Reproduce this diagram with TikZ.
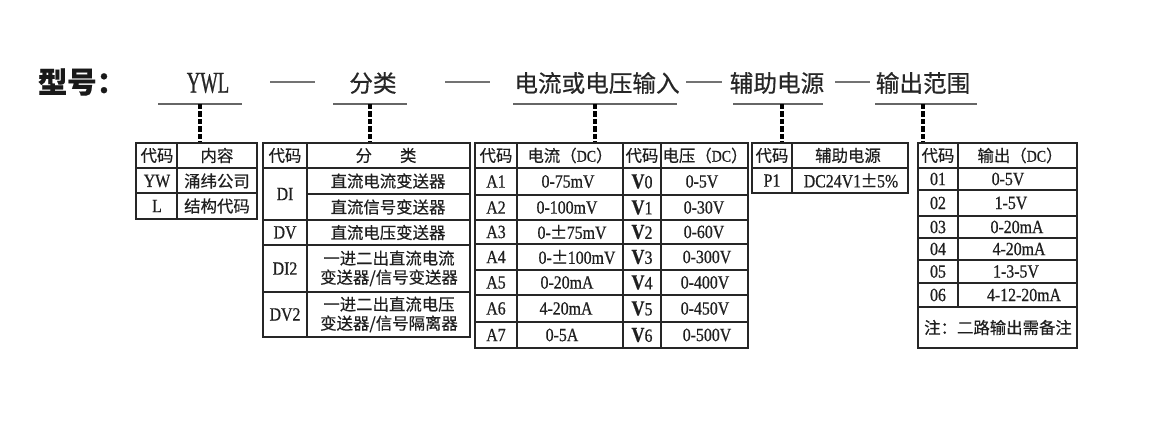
\documentclass[tikz,border=0pt]{standalone}
\usepackage{fontspec}
\usepackage{graphicx}
\setmainfont{Liberation Serif}[FakeStretch=0.85,FakeBold=0.7]
\newfontfamily\cj{Noto Sans CJK SC}[FakeBold=0.5]
\newfontfamily\hdlat{Liberation Serif}[FakeStretch=0.62,FakeBold=0.8]
\begin{document}
\begin{tikzpicture}[x=0.75pt,y=-0.75pt,
  grid/.style={line width=1.3pt,draw=black!85},
  ul/.style={line width=2.2pt,draw=black!60},
  dashln/.style={line width=2.2pt,draw=black!55},
  conn/.style={line width=3pt,dash pattern=on 4pt off 1.6pt,draw=black},
  cjt/.style={font=\cj\fontsize{12.3}{14.25}\selectfont,text=black!88,inner sep=0pt,align=center},
  lat/.style={font=\fontsize{14}{16}\selectfont,text=black!88,inner sep=0pt},
  hd/.style={font=\cj\fontsize{17.7}{20}\selectfont,text=black!85,inner sep=0pt}]
\useasboundingbox (0,0) rectangle (1166,431);
\newcommand\vb{{\bfseries\fontsize{16}{16}\selectfont V}}
\newcommand\pmw{{\cj\fontsize{13}{14}\selectfont\makebox[12pt]{±}}}
% ---------- header ----------
\node[font=\cj\bfseries\fontsize{22}{24}\selectfont,inner sep=0pt,text=black!90] (xh) at (82,82) {型号：};
\node[font=\hdlat\fontsize{22.5}{24}\selectfont,inner sep=0pt,text=black!85] (hywl) at (208,83) {YWL};
\node[hd] (hfl) at (373,83) {分类};
\node[hd] (hdl) at (597,83) {电流或电压输入};
\node[hd] (hfz) at (777,83) {辅助电源};
\node[hd] (hsc) at (923,83) {输出范围};
% underlines
\draw[ul] (158,104) -- (242,104);
\draw[ul] (333,104) -- (407,104);
\draw[ul] (513,104) -- (677,104);
\draw[ul] (733,104) -- (823,104);
\draw[ul] (875,104) -- (977,104);
% dashes
\draw[dashln] (270,82) -- (315,82);
\draw[dashln] (445,82) -- (490,82);
\draw[dashln] (686,82) -- (722,82);
\draw[dashln] (835,82) -- (870,82);
% connector coordinates
\coordinate (u1) at (200,104); \coordinate (t1) at (200,143);
\coordinate (u2) at (370,104); \coordinate (t2) at (370,143);
\coordinate (u3) at (595,104); \coordinate (t3) at (595,143);
\coordinate (u4) at (782,104); \coordinate (t4) at (782,143);
\coordinate (u5) at (923,104); \coordinate (t5) at (923,143);
\draw[conn] (u1) -- (t1);
\draw[conn] (u2) -- (t2);
\draw[conn] (u3) -- (t3);
\draw[conn] (u4) -- (t4);
\draw[conn] (u5) -- (t5);
% ---------- table 1 ----------
\draw[grid] (136,143) rectangle (257,219);
\draw[grid] (177,143) -- (177,219);
\draw[grid] (136,168) -- (257,168) (136,193) -- (257,193);
\node[cjt] (a1) at (157,155.5) {代码};
\node[cjt] (a2) at (217,155.5) {内容};
\node[lat] (a3) at (157,181) {YW};
\node[cjt] (a4) at (217,181) {涌纬公司};
\node[lat] (a5) at (157,206) {L};
\node[cjt] (a6) at (217,206) {结构代码};
% ---------- table 2 ----------
\draw[grid] (263,143) rectangle (470,337);
\draw[grid] (307,143) -- (307,337);
\draw[grid] (263,168) -- (470,168) (307,194) -- (470,194) (263,220) -- (470,220)
  (263,245) -- (470,245) (263,292) -- (470,292);
\node[cjt] (b1) at (285,155.5) {代码};
\node[cjt] (b2) at (386,155.5) {分\hspace{21pt}类};
\node[lat] (b3) at (285,194) {DI};
\node[cjt] (b4) at (388,181) {直流电流变送器};
\node[cjt] (b5) at (388,207) {直流信号变送器};
\node[lat] (b6) at (285,232.5) {DV};
\node[cjt] (b7) at (388,232.5) {直流电压变送器};
\node[lat] (b8) at (285,268.5) {DI2};
\node[cjt] (b9) at (389,268.5) {一进二出直流电流\\变送器/信号变送器};
\node[lat] (b10) at (285,314.5) {DV2};
\node[cjt] (b11) at (389,314.5) {一进二出直流电压\\变送器/信号隔离器};
% ---------- table 3 ----------
\draw[grid] (475,143) rectangle (748,348);
\draw[grid] (517,143) -- (517,348) (623,143) -- (623,348) (661,143) -- (661,348);
\draw[grid] (475,168) -- (748,168) (475,195) -- (748,195) (475,220) -- (748,220)
  (475,244) -- (748,244) (475,270) -- (748,270) (475,295) -- (748,295) (475,322) -- (748,322);
\node[cjt] (c1) at (496,155.5) {代码};
\node[cjt] (c2) at (570,155.5) {电流{\cj （}{\rmfamily DC}{\cj ）}};
\node[cjt] (c3) at (642,155.5) {代码};
\node[cjt] (c4) at (705,155.5) {电压{\cj （}{\rmfamily DC}{\cj ）}};
\node[lat] (c5)  at (496,181.5) {A1};
\node[lat] (c6)  at (568,181.5) {0-75mV};
\node[lat] (c7)  at (642,181.5) {\vb0};
\node[lat] (c8)  at (702,181.5) {0-5V};
\node[lat] (c9)  at (496,207.5) {A2};
\node[lat] (c10) at (567,207.5) {0-100mV};
\node[lat] (c11) at (642,207.5) {\vb1};
\node[lat] (c12) at (704,207.5) {0-30V};
\node[lat] (c13) at (496,232) {A3};
\node[lat] (c14) at (572,232) {0-\pmw75mV};
\node[lat] (c15) at (642,232) {\vb2};
\node[lat] (c16) at (704,232) {0-60V};
\node[lat] (c17) at (496,257) {A4};
\node[lat] (c18) at (577,257) {0-\pmw100mV};
\node[lat] (c19) at (642,257) {\vb3};
\node[lat] (c20) at (707,257) {0-300V};
\node[lat] (c21) at (496,282.5) {A5};
\node[lat] (c22) at (567,282.5) {0-20mA};
\node[lat] (c23) at (642,282.5) {\vb4};
\node[lat] (c24) at (705,282.5) {0-400V};
\node[lat] (c25) at (496,308.5) {A6};
\node[lat] (c26) at (566,308.5) {4-20mA};
\node[lat] (c27) at (642,308.5) {\vb5};
\node[lat] (c28) at (705,308.5) {0-450V};
\node[lat] (c29) at (496,335) {A7};
\node[lat] (c30) at (562,335) {0-5A};
\node[lat] (c31) at (642,335) {\vb6};
\node[lat] (c32) at (707,335) {0-500V};
% ---------- table 4 ----------
\draw[grid] (752,143) rectangle (908,193);
\draw[grid] (792,143) -- (792,193) (752,168) -- (908,168);
\node[cjt] (d1) at (772,155.5) {代码};
\node[cjt] (d2) at (848,155.5) {辅助电源};
\node[lat] (d3) at (772,180.5) {P1};
\node[lat] (d4) at (851,180.5) {DC24V1\pmw5\%};
% ---------- table 5 ----------
\draw[grid] (918,143) rectangle (1077,348);
\draw[grid] (958,143) -- (958,307);
\draw[grid] (918,168) -- (1077,168) (918,190) -- (1077,190) (918,216) -- (1077,216)
  (918,238) -- (1077,238) (918,260) -- (1077,260) (918,283) -- (1077,283) (918,307) -- (1077,307);
\node[cjt] (e1) at (938,155.5) {代码};
\node[cjt] (e2) at (1020,155.5) {输出{\cj （}{\rmfamily DC}{\cj ）}};
\node[lat] (e3)  at (938,179) {01};
\node[lat] (e4)  at (1008,179) {0-5V};
\node[lat] (e5)  at (938,203) {02};
\node[lat] (e6)  at (1011,203) {1-5V};
\node[lat] (e7)  at (938,227) {03};
\node[lat] (e8)  at (1017,227) {0-20mA};
\node[lat] (e9)  at (938,249) {04};
\node[lat] (e10) at (1019,249) {4-20mA};
\node[lat] (e11) at (938,271.5) {05};
\node[lat] (e12) at (1016,271.5) {1-3-5V};
\node[lat] (e13) at (938,295) {06};
\node[lat] (e14) at (1024,295) {4-12-20mA};
\node[cjt] (e15) at (998,327.5) {注：二路输出需备注};
\end{tikzpicture}
\end{document}
